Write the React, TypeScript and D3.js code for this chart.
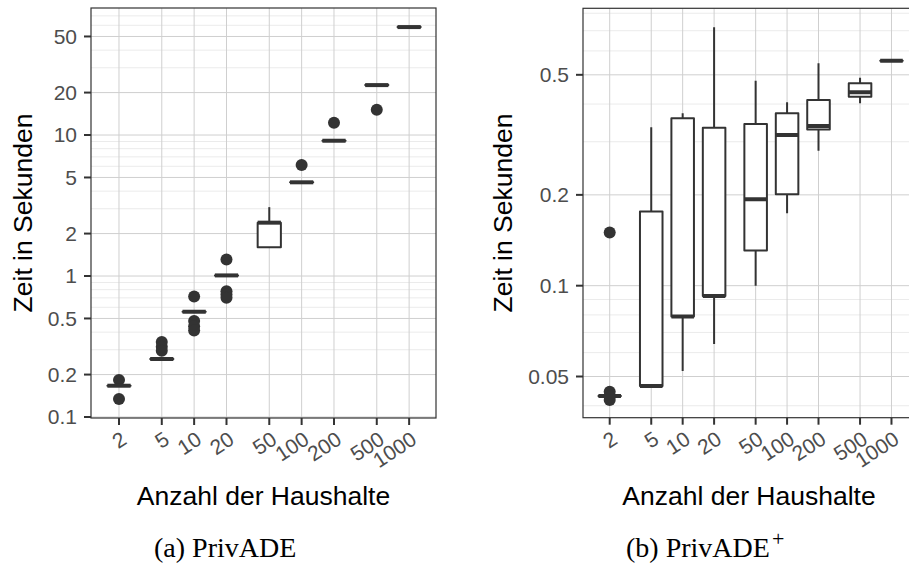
import React from 'react';
import * as d3 from 'd3';

const categories = [2, 5, 10, 20, 50, 100, 200, 500, 1000];
const xTickLabels = ['2', '5', '10', '20', '50', '100', '200', '500', '1000'];

// (a) PrivADE
const aLow = [0.1667, 0.258, 0.558, 1.01, 1.6, 4.62, 9.11, 22.6, 58.3];
const aQ1 = [0.1667, 0.258, 0.558, 1.01, 1.6, 4.62, 9.11, 22.6, 58.3];
const aMed = [0.1667, 0.258, 0.558, 1.01, 2.39, 4.62, 9.11, 22.6, 58.3];
const aQ3 = [0.1667, 0.258, 0.558, 1.01, 2.39, 4.62, 9.11, 22.6, 58.3];
const aHigh = [0.1667, 0.258, 0.558, 1.01, 3.08, 4.62, 9.11, 22.6, 58.3];
const aOutliers = [
  [0.183, 0.134],
  [0.34, 0.315, 0.295],
  [0.715, 0.48, 0.44, 0.41],
  [1.31, 0.78, 0.74, 0.7],
  [],
  [6.13],
  [12.2],
  [15.1],
  [],
];
const aYTicks = [0.1, 0.2, 0.5, 1, 2, 5, 10, 20, 50];
const aYTickLabels = ['0.1', '0.2', '0.5', '1', '2', '5', '10', '20', '50'];

// (b) PrivADE+
const bLow = [0.0431, 0.0465, 0.0521, 0.0641, 0.1, 0.1738, 0.2803, 0.4023, 0.5569];
const bQ1 = [0.0431, 0.0465, 0.0791, 0.0924, 0.1308, 0.2009, 0.3295, 0.4232, 0.5569];
const bMed = [0.0431, 0.0465, 0.0791, 0.0924, 0.1934, 0.3159, 0.338, 0.4375, 0.5569];
const bQ3 = [0.0431, 0.176, 0.3588, 0.334, 0.3436, 0.3727, 0.4126, 0.469, 0.5569];
const bHigh = [0.0431, 0.335, 0.3727, 0.7185, 0.478, 0.4055, 0.546, 0.489, 0.5569];
const bOutliers = [[0.15, 0.0445, 0.043, 0.0418], [], [], [], [], [], [], [], []];
const bYTicks = [0.05, 0.1, 0.2, 0.5];
const bYTickLabels = ['0.05', '0.1', '0.2', '0.5'];

const INK = '#333333';
const SANS = '"Liberation Sans", Arial, Helvetica, sans-serif';
const SERIF = '"Liberation Serif", "Times New Roman", serif';

type PanelProps = {
  xDomain: [number, number];
  xRange: [number, number];
  yDomain: [number, number];
  yRange: [number, number];
  low: number[];
  q1: number[];
  med: number[];
  q3: number[];
  high: number[];
  outliers: number[][];
  yTicks: number[];
  yTickLabels: string[];
  yTitleX: number;
  clipId: string;
};

function Panel(p: PanelProps) {
  const x = d3.scaleLog().domain(p.xDomain).range(p.xRange);
  const y = d3.scaleLog().domain(p.yDomain).range(p.yRange);
  const [x0, x1] = p.xRange;
  const [yb, yt] = p.yRange;
  const halfW = 0.108; // in log10 units

  const minor: number[] = [];
  const lo = Math.floor(Math.log10(p.yDomain[0]));
  const hi = Math.ceil(Math.log10(p.yDomain[1]));
  for (let e = lo; e <= hi; e++) {
    for (let k = 1; k <= 9; k++) {
      const v = k * Math.pow(10, e);
      if (v >= p.yDomain[0] && v <= p.yDomain[1] && !p.yTicks.some((t) => Math.abs(t - v) / v < 1e-6)) {
        minor.push(v);
      }
    }
  }

  const cx = (x0 + x1) / 2;
  const cy = (yb + yt) / 2;

  return (
    <g>
      <defs>
        <clipPath id={p.clipId}>
          <rect x={x0} y={yt} width={x1 - x0} height={yb - yt} />
        </clipPath>
      </defs>
      <g clipPath={`url(#${p.clipId})`}>
        {minor.map((v, i) => (
          <line key={'mn' + i} x1={x0} x2={x1} y1={y(v)} y2={y(v)} stroke="#ebebeb" strokeWidth={1} />
        ))}
        {p.yTicks.map((v, i) => (
          <line key={'my' + i} x1={x0} x2={x1} y1={y(v)} y2={y(v)} stroke="#cfcfcf" strokeWidth={1} />
        ))}
        {categories.map((c, i) => (
          <line key={'mx' + i} x1={x(c)} x2={x(c)} y1={yt} y2={yb} stroke="#cfcfcf" strokeWidth={1} />
        ))}
        {categories.map((c, i) => {
          const lc = Math.log10(c);
          const bl = x(Math.pow(10, lc - halfW));
          const br = x(Math.pow(10, lc + halfW));
          const xc = x(c);
          return (
            <g key={'b' + i}>
              {p.outliers[i].map((o, j) => (
                <circle key={j} cx={xc} cy={y(o)} r={6} fill={INK} />
              ))}
              <line x1={xc} x2={xc} y1={y(p.q3[i])} y2={y(p.high[i])} stroke={INK} strokeWidth={2} />
              <line x1={xc} x2={xc} y1={y(p.q1[i])} y2={y(p.low[i])} stroke={INK} strokeWidth={2} />
              <path
                d={`M${bl},${y(p.q1[i])}H${br}V${y(p.q3[i])}H${bl}Z`}
                fill="#ffffff"
                stroke={INK}
                strokeWidth={2}
                strokeLinejoin="round"
              />
              <line x1={bl} x2={br} y1={y(p.med[i])} y2={y(p.med[i])} stroke={INK} strokeWidth={4} />
            </g>
          );
        })}
      </g>
      <rect x={x0} y={yt} width={x1 - x0} height={yb - yt} fill="none" stroke={INK} strokeWidth={1.2} />
      {p.yTicks.map((v, i) => (
        <g key={'yt' + i}>
          <line x1={x0 - 7} x2={x0} y1={y(v)} y2={y(v)} stroke={INK} strokeWidth={2} />
          <text
            x={x0 - 14}
            y={y(v)}
            dy="0.35em"
            textAnchor="end"
            fontFamily={SANS}
            fontSize={21}
            fill="#4d4d4d"
          >
            {p.yTickLabels[i]}
          </text>
        </g>
      ))}
      {categories.map((c, i) => (
        <g key={'xt' + i}>
          <line x1={x(c)} x2={x(c)} y1={yb} y2={yb + 7} stroke={INK} strokeWidth={2} />
          <text
            transform={`translate(${x(c) + 9},${yb + 25}) rotate(-33)`}
            textAnchor="end"
            fontFamily={SANS}
            fontSize={21}
            fill="#4d4d4d"
          >
            {xTickLabels[i]}
          </text>
        </g>
      ))}
      <text
        transform={`translate(${p.yTitleX},${cy}) rotate(-90)`}
        textAnchor="middle"
        fontFamily={SANS}
        fontSize={26.5}
        fill="#000000"
      >
        Zeit in Sekunden
      </text>
      <text x={cx} y={505} textAnchor="middle" fontFamily={SANS} fontSize={26.5} fill="#000000">
        Anzahl der Haushalte
      </text>
    </g>
  );
}

export default function App() {
  return (
    <svg
      width={909}
      height={566}
      style={{ position: 'absolute', left: 0, top: 0, background: '#ffffff' }}
    >
      <rect x={0} y={0} width={909} height={566} fill="#ffffff" />
      <Panel
        xDomain={[1.098, 1778]}
        xRange={[91, 436]}
        yDomain={[0.0984, 79.6]}
        yRange={[418, 8]}
        low={aLow}
        q1={aQ1}
        med={aMed}
        q3={aQ3}
        high={aHigh}
        outliers={aOutliers}
        yTicks={aYTicks}
        yTickLabels={aYTickLabels}
        yTitleX={31.5}
        clipId="clipA"
      />
      <Panel
        xDomain={[1.11, 1680]}
        xRange={[583, 915]}
        yDomain={[0.03651, 0.8307]}
        yRange={[417.7, 8.3]}
        low={bLow}
        q1={bQ1}
        med={bMed}
        q3={bQ3}
        high={bHigh}
        outliers={bOutliers}
        yTicks={bYTicks}
        yTickLabels={bYTickLabels}
        yTitleX={511.5}
        clipId="clipB"
      />
      <text x={154} y={557} fontFamily={SERIF} fontSize={28} fill="#000000">
        (a) PrivADE
      </text>
      <text x={626} y={557} fontFamily={SERIF} fontSize={28} fill="#000000">
        (b) PrivADE
        <tspan dx={2} dy={-11} fontSize={22}>+</tspan>
      </text>
    </svg>
  );
}
